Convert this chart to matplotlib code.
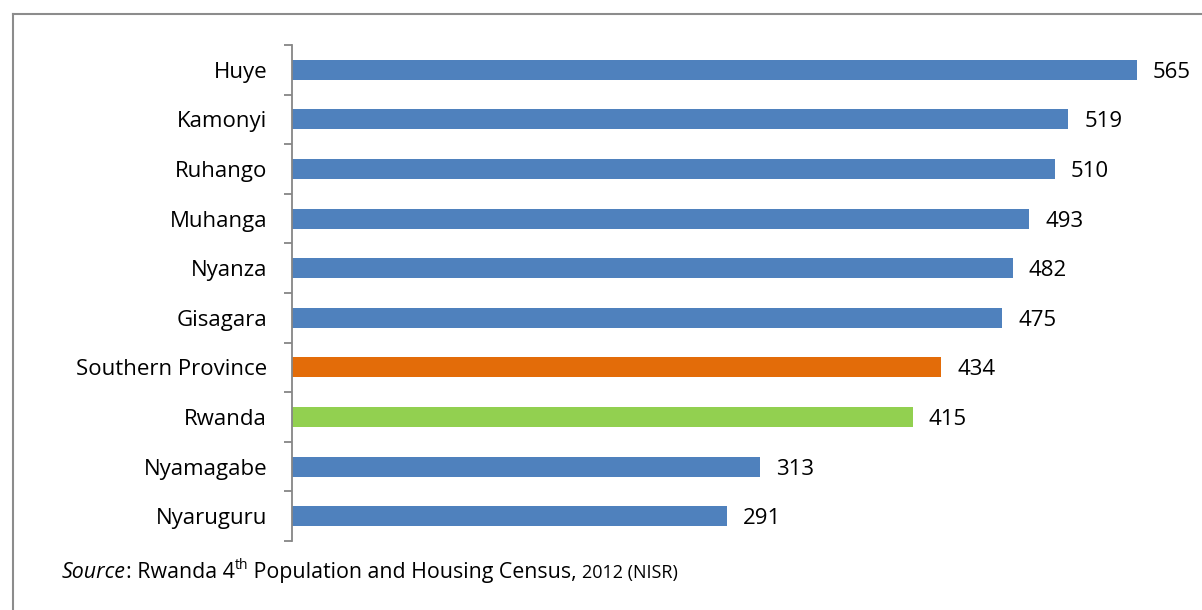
import matplotlib
matplotlib.use("Agg")
import matplotlib.pyplot as plt
from matplotlib.lines import Line2D
import numpy as np

categories = ["Huye", "Kamonyi", "Ruhango", "Muhanga", "Nyanza", "Gisagara",
              "Southern Province", "Rwanda", "Nyamagabe", "Nyaruguru"]
values = [565, 519, 510, 493, 482, 475, 434, 415, 313, 291]
colors = ["#4F81BD"] * 6 + ["#E36C09", "#92D050"] + ["#4F81BD"] * 2

FONT = "Open Sans"
plt.rcParams['font.family'] = [FONT, 'DejaVu Sans']

W, H = 1202, 610
fig = plt.figure(figsize=(W / 100, H / 100), dpi=100)

left_px, right_px = 292, 292 + 600 * (1137 - 292) / 565
top_px, bot_px = 45, 541
ax = fig.add_axes([left_px / W, 1 - bot_px / H, (right_px - left_px) / W, (bot_px - top_px) / H])

y = np.arange(len(categories))
ax.barh(y, values, height=0.4, color=colors)
ax.set_xlim(0, 600)
ax.set_ylim(len(categories) - 0.5, -0.5)

for s in ["top", "right", "bottom"]:
    ax.spines[s].set_visible(False)
ax.spines["left"].set_color("#868686")
ax.spines["left"].set_linewidth(1.3)
ax.set_xticks([])
ax.set_yticks(y)
ax.set_yticklabels(categories, fontsize=16, color="#000000", va="center_baseline")
ax.tick_params(axis="y", which="major", length=0, pad=18)
ax.set_yticks(np.arange(-0.5, len(categories), 1), minor=True)
ax.tick_params(axis="y", which="minor", length=6, width=1.3, color="#868686")

for yi, v in zip(y, values):
    ax.annotate(f"{v}", (v, yi), xytext=(11.5, 0), textcoords="offset points",
                va="center_baseline", ha="left", fontsize=16)

# border (top and left)
fig.add_artist(Line2D([13 / W, 1.0], [1 - 14 / H, 1 - 14 / H], transform=fig.transFigure,
                      color="#8c8c8c", lw=1.5))
fig.add_artist(Line2D([13 / W, 13 / W], [1 - 14 / H, 0], transform=fig.transFigure,
                      color="#8c8c8c", lw=1.5))

# source line, assembled from pieces
fig.canvas.draw()
r = fig.canvas.get_renderer()
x = 62
base_y = 1 - 578 / H
pieces = [("Source", dict(fontsize=15.4, style="italic"), 0),
          (": Rwanda 4", dict(fontsize=15.4), 0),
          ("th", dict(fontsize=10), 9),
          (" Population and Housing Census, ", dict(fontsize=15.4), 0),
          ("2012 (NISR)", dict(fontsize=13), 0)]
for txt, kw, rise in pieces:
    t = fig.text(x / W, base_y + rise / H, txt, va="baseline", ha="left", **kw)
    bb = t.get_window_extent(renderer=r)
    x += bb.width

fig.savefig("out.png", dpi=100, facecolor="white")
